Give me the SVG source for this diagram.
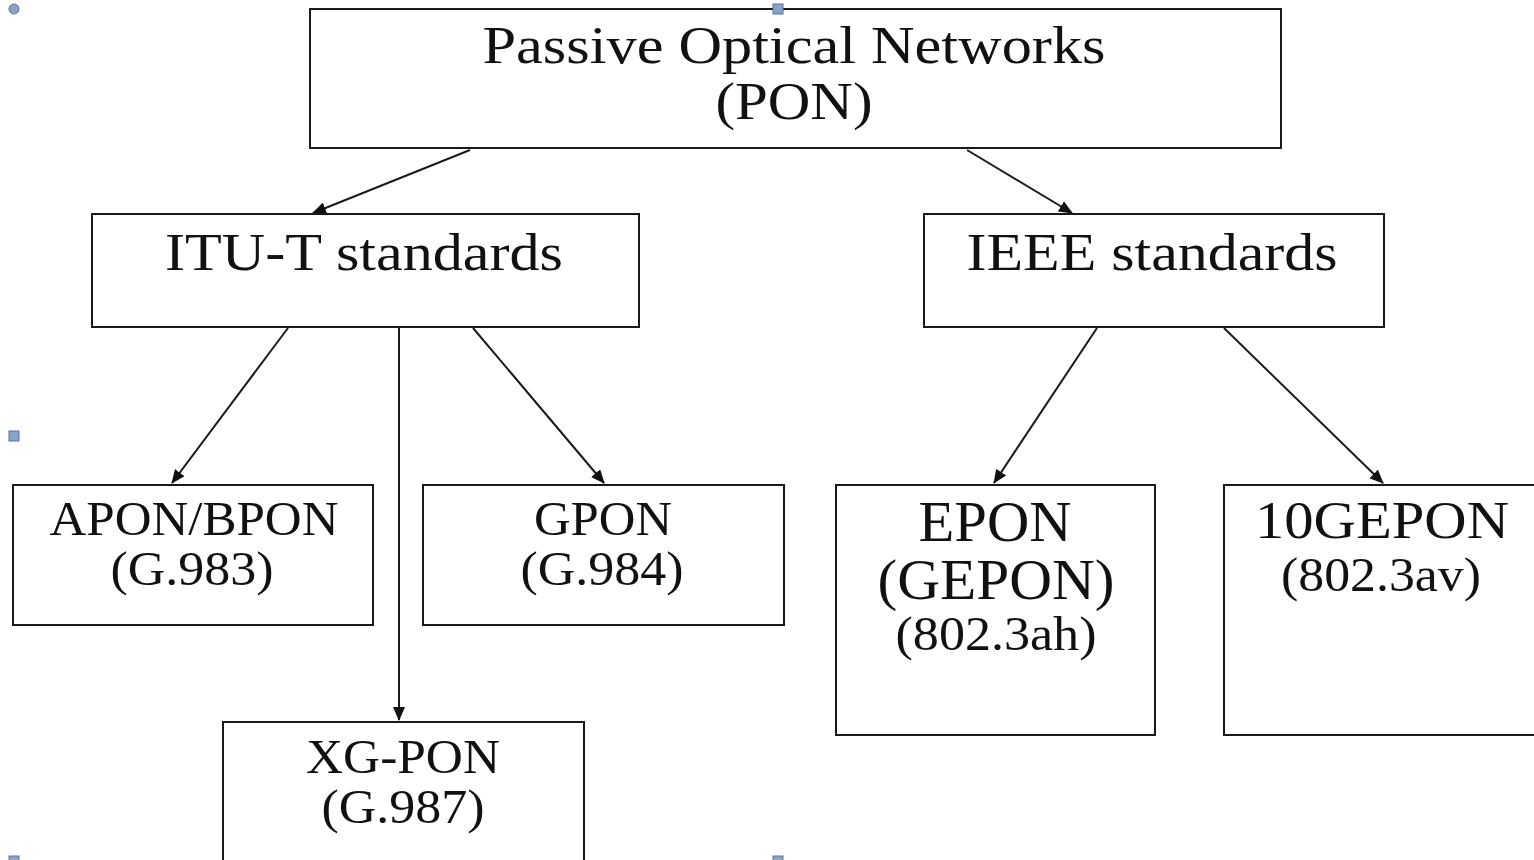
<svg xmlns="http://www.w3.org/2000/svg" width="1534" height="860" viewBox="0 0 1534 860">
<defs>
<style>
.box{fill:#fff;stroke:#1a1a1a;stroke-width:2}
.t{font-family:"Liberation Serif","Times New Roman",serif;fill:#111;text-anchor:middle}
.c{stroke:#1a1a1a;stroke-width:2;fill:none;marker-end:url(#ah)}
.h{fill:#8aa3c8;stroke:#5a73a0;stroke-width:1}
</style>
<marker id="ah" viewBox="0 0 14 12" refX="13" refY="6" markerWidth="14" markerHeight="12" markerUnits="userSpaceOnUse" orient="auto">
<path d="M0,0 L14,6 L0,12 Z" fill="#111"/>
</marker>
</defs>
<rect width="1534" height="860" fill="#fff"/>
<g id="connectors">
<line class="c" x1="470" y1="150" x2="313" y2="213"/>
<line class="c" x1="967" y1="150" x2="1072" y2="213"/>
<line class="c" x1="288" y1="328" x2="172" y2="483"/>
<line class="c" x1="399" y1="328" x2="399" y2="720"/>
<line class="c" x1="473" y1="328" x2="604" y2="483"/>
<line class="c" x1="1097" y1="328" x2="994" y2="483"/>
<line class="c" x1="1224" y1="328" x2="1383" y2="483"/>
</g>
<g id="pon">
<rect class="box" x="310" y="9" width="971" height="139"/>
<text class="t" x="794" y="63" font-size="53" textLength="623" lengthAdjust="spacingAndGlyphs">Passive Optical Networks</text>
<text class="t" x="794" y="119" font-size="53" textLength="157" lengthAdjust="spacingAndGlyphs">(PON)</text>
</g>
<g id="itu">
<rect class="box" x="92" y="214" width="547" height="113"/>
<text class="t" x="364" y="270" font-size="53" textLength="398" lengthAdjust="spacingAndGlyphs">ITU-T standards</text>
</g>
<g id="ieee">
<rect class="box" x="924" y="214" width="460" height="113"/>
<text class="t" x="1152" y="270" font-size="53" textLength="371" lengthAdjust="spacingAndGlyphs">IEEE standards</text>
</g>
<g id="apon">
<rect class="box" x="13" y="485" width="360" height="140"/>
<text class="t" x="194" y="535" font-size="48" textLength="289" lengthAdjust="spacingAndGlyphs">APON/BPON</text>
<text class="t" x="192" y="585" font-size="48" textLength="163" lengthAdjust="spacingAndGlyphs">(G.983)</text>
</g>
<g id="gpon">
<rect class="box" x="423" y="485" width="361" height="140"/>
<text class="t" x="603" y="535" font-size="48" textLength="138" lengthAdjust="spacingAndGlyphs">GPON</text>
<text class="t" x="602" y="585" font-size="48" textLength="163" lengthAdjust="spacingAndGlyphs">(G.984)</text>
</g>
<g id="xgpon">
<rect class="box" x="223" y="722" width="361" height="150"/>
<text class="t" x="403" y="773" font-size="48" textLength="194" lengthAdjust="spacingAndGlyphs">XG-PON</text>
<text class="t" x="403" y="823" font-size="48" textLength="163" lengthAdjust="spacingAndGlyphs">(G.987)</text>
</g>
<g id="epon">
<rect class="box" x="836" y="485" width="319" height="250"/>
<text class="t" x="995" y="541" font-size="56" textLength="153" lengthAdjust="spacingAndGlyphs">EPON</text>
<text class="t" x="996" y="599" font-size="56" textLength="237" lengthAdjust="spacingAndGlyphs">(GEPON)</text>
<text class="t" x="996" y="650" font-size="48" textLength="201" lengthAdjust="spacingAndGlyphs">(802.3ah)</text>
</g>
<g id="gepon10">
<rect class="box" x="1224" y="485" width="320" height="250"/>
<text class="t" x="1382" y="538" font-size="53" textLength="254" lengthAdjust="spacingAndGlyphs">10GEPON</text>
<text class="t" x="1381" y="591" font-size="48" textLength="200" lengthAdjust="spacingAndGlyphs">(802.3av)</text>
</g>
<g id="handles">
<circle class="h" cx="14" cy="9" r="5"/>
<rect class="h" x="773" y="4" width="10" height="10"/>
<rect class="h" x="9" y="431" width="10" height="10"/>
<rect class="h" x="9" y="856" width="10" height="6"/>
<rect class="h" x="773" y="856" width="10" height="6"/>
</g>
</svg>
